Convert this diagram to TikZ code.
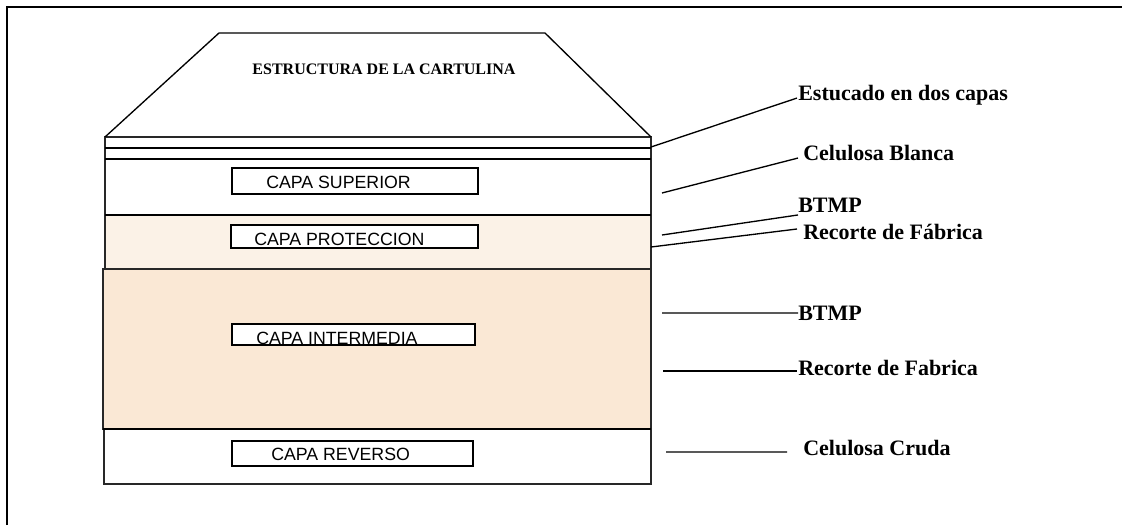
\documentclass[tikz,border=0pt]{standalone}
\usepackage{fontspec}
\setmainfont{Liberation Serif}
\newfontfamily\arialfont{Liberation Sans}
\definecolor{protfill}{RGB}{251,242,231}
\definecolor{interfill}{RGB}{250,232,213}
\definecolor{edgegray}{RGB}{40,40,40}
\begin{document}
\begin{tikzpicture}[x=0.75pt,y=-0.75pt,
  outerframe/.style={line width=1.5pt},
  layerbox/.style={draw=edgegray,line width=0.8pt},
  divider/.style={line width=1.2pt},
  trapline/.style={line width=1pt,line join=miter},
  capabox/.style={draw=black,line width=0.9pt,fill=white,inner sep=0pt,outer sep=0pt},
  capatext/.style={font=\arialfont\fontsize{13.3}{15}\selectfont,inner sep=0pt,anchor=base west},
  lbl/.style={font=\bfseries\fontsize{16.5}{19}\selectfont,inner sep=0pt,anchor=base west},
  titletext/.style={font=\bfseries\fontsize{12}{14}\selectfont,inner sep=0pt,anchor=base},
  leaderline/.style={line width=1pt},
]
\useasboundingbox (0,0) rectangle (1126,525);
\draw[outerframe] (7,525) -- (7,7) -- (1122,7);

% layers
\draw[layerbox,fill=white] (105,137) rectangle (651,159);
\draw[layerbox,fill=white] (105,159) rectangle (651,215);
\draw[layerbox,fill=protfill] (105,215) rectangle (651,269);
\draw[layerbox,fill=interfill] (103,269) rectangle (651,429);
\draw[layerbox,fill=white] (104,429) rectangle (651,484);
\draw[divider] (105,148) -- (651,148);
\draw[divider] (105,159) -- (651,159);
\draw[divider] (105,215) -- (651,215);
\draw[divider] (103,429) -- (651,429);

% top trapezoid
\draw[trapline] (105,137) -- (219,33) -- (545,33) -- (651,137);
\node[titletext] (title) at (384,74) {ESTRUCTURA DE LA CARTULINA};

% inner boxes
\node[capabox,minimum width=184.5pt,minimum height=19.5pt] (sup) at (355,181) {};
\node[capabox,minimum width=185.25pt,minimum height=17.25pt] (prot) at (354.5,236.5) {};
\node[capabox,minimum width=182.25pt,minimum height=15.75pt] (inter) at (353.5,334.5) {};
\node[capabox,minimum width=180.75pt,minimum height=18.75pt] (rev) at (352.5,453.5) {};
\node[capatext] (suptext) at ([xshift=25.5pt,yshift=4.3pt]sup.south west) {CAPA SUPERIOR};
\node[capatext] (prottext) at ([xshift=17.25pt,yshift=2.25pt]prot.south west) {CAPA PROTECCION};
\node[capatext] (intertext) at ([xshift=18pt,yshift=0.5pt]inter.south west) {CAPA INTERMEDIA};
\node[capatext] (revtext) at ([xshift=29.25pt,yshift=4pt]rev.south west) {CAPA REVERSO};

% labels
\node[lbl] (estucado) at (798,100.7) {Estucado en dos capas};
\node[lbl] (celblanca) at (803,160.7) {Celulosa Blanca};
\node[lbl] (btmpa) at (798,212.7) {BTMP};
\node[lbl] (recortea) at (803,239) {Recorte de Fábrica};
\node[lbl] (btmpb) at (798,320.7) {BTMP};
\node[lbl] (recorteb) at (798,375) {Recorte de Fabrica};
\node[lbl] (celcruda) at (803,455) {Celulosa Cruda};

% leader line free ends
\coordinate (pa) at (651,147);
\coordinate (pb) at (662,193);
\coordinate (pc) at (662,235);
\coordinate (pd) at (651,247);
\coordinate (pe) at (662,313);
\coordinate (pf) at (663,371);
\coordinate (pg) at (666,452);

\draw[leaderline] (pa) -- ([xshift=-0.75pt,yshift=2pt]estucado.base west);
\draw[leaderline] (pb) -- ([xshift=-3.75pt,yshift=2pt]celblanca.base west);
\draw[leaderline] (pc) -- ([yshift=-1.7pt]btmpa.base west);
\draw[leaderline] (pd) -- ([xshift=-4.5pt,yshift=7.5pt]recortea.base west);
\draw[leaderline] (pe) -- ([yshift=5.8pt]btmpb.base west);
\draw[leaderline] (pf) -- ([xshift=-0.75pt,yshift=3pt]recorteb.base west);
\draw[leaderline] (pg) -- ([xshift=-12pt,yshift=2.2pt]celcruda.base west);
\end{tikzpicture}
\end{document}
